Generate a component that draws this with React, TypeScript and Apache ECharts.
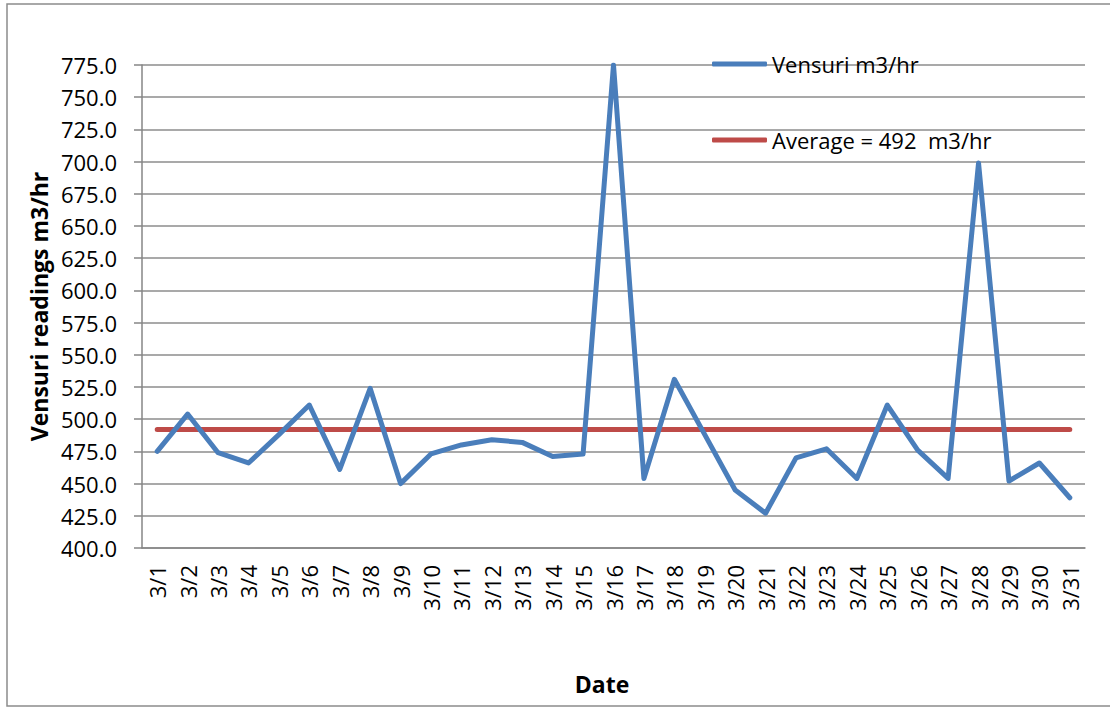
import React, { useEffect, useRef } from "react";
import * as echarts from "echarts";

const dates = [
  "3/1", "3/2", "3/3", "3/4", "3/5", "3/6", "3/7", "3/8", "3/9", "3/10",
  "3/11", "3/12", "3/13", "3/14", "3/15", "3/16", "3/17", "3/18", "3/19", "3/20",
  "3/21", "3/22", "3/23", "3/24", "3/25", "3/26", "3/27", "3/28", "3/29", "3/30", "3/31",
];

const vensuri = [
  475, 504, 474, 466, 488, 511, 461, 524, 450, 473,
  480, 484, 482, 471, 473, 775, 454, 531, 488, 445,
  427, 470, 477, 454, 511, 476, 454, 699, 452, 466, 439,
];

const AVERAGE = 492;
const average = dates.map(() => AVERAGE);

const seriesNames = ["Vensuri m3/hr", "Average = 492  m3/hr"];
const yAxisTitle = "Vensuri readings m3/hr";
const xAxisTitle = "Date";

const FONT = "Open Sans";

export default function App() {
  const ref = useRef<HTMLDivElement>(null);

  useEffect(() => {
    if (!ref.current) return;
    const chart = echarts.init(ref.current, null, { renderer: "svg" });
    chart.setOption({
      animation: false,
      backgroundColor: "#ffffff",
      textStyle: { fontFamily: FONT },
      grid: { left: 142, right: 25, top: 65, bottom: 163, containLabel: false },
      legend: {
        orient: "vertical",
        left: 712,
        top: 52,
        padding: 0,
        itemGap: 52,
        itemWidth: 55,
        itemHeight: 5,
        icon: "roundRect",
        textStyle: { fontFamily: FONT, fontSize: 22, color: "#000", lineHeight: 24 },
        data: seriesNames,
      },
      xAxis: {
        type: "category",
        data: dates,
        boundaryGap: true,
        axisLine: { show: true, lineStyle: { color: "#868686", width: 1.5 } },
        axisTick: { show: false },
        axisLabel: {
          interval: 0,
          rotate: 90,
          margin: 17,
          fontFamily: FONT,
          fontSize: 22,
          color: "#000",
        },
        splitLine: { show: false },
      },
      yAxis: {
        type: "value",
        min: 400,
        max: 775,
        interval: 25,
        name: yAxisTitle,
        nameLocation: "middle",
        nameGap: 88,
        nameRotate: 90,
        nameTextStyle: { fontFamily: FONT, fontSize: 23, fontWeight: "bold", color: "#000" },
        axisLine: { show: true, lineStyle: { color: "#868686", width: 1.5 } },
        axisTick: { show: true, length: 8, lineStyle: { color: "#868686", width: 1.5 } },
        axisLabel: {
          margin: 25,
          fontFamily: FONT,
          fontSize: 22,
          color: "#000",
          formatter: (v: number) => v.toFixed(1),
        },
        splitLine: { show: true, lineStyle: { color: "#8c8c8c", width: 1.5 } },
      },
      graphic: [
        {
          type: "rect",
          shape: { x: 7, y: 4, width: 1110, height: 702 },
          style: { fill: "none", stroke: "#8c8c8c", lineWidth: 1.5 },
          silent: true,
        },
        {
          type: "text",
          x: 602,
          y: 684,
          style: {
            text: xAxisTitle,
            fontFamily: FONT,
            fontSize: 23,
            fontWeight: "bold",
            fill: "#000",
            align: "center",
            verticalAlign: "middle",
          },
        },
      ],
      series: [
        {
          name: seriesNames[0],
          type: "line",
          data: vensuri,
          showSymbol: false,
          symbol: "none",
          color: "#4A7EBB",
          lineStyle: { color: "#4A7EBB", width: 5, cap: "round", join: "round" },
          z: 3,
        },
        {
          name: seriesNames[1],
          type: "line",
          data: average,
          showSymbol: false,
          symbol: "none",
          color: "#BE4B48",
          lineStyle: { color: "#BE4B48", width: 5, cap: "round" },
          z: 2,
        },
      ],
    });
    return () => chart.dispose();
  }, []);

  return (
    <div
      ref={ref}
      style={{ position: "fixed", left: 0, top: 0, width: 1110, height: 711 }}
    />
  );
}
